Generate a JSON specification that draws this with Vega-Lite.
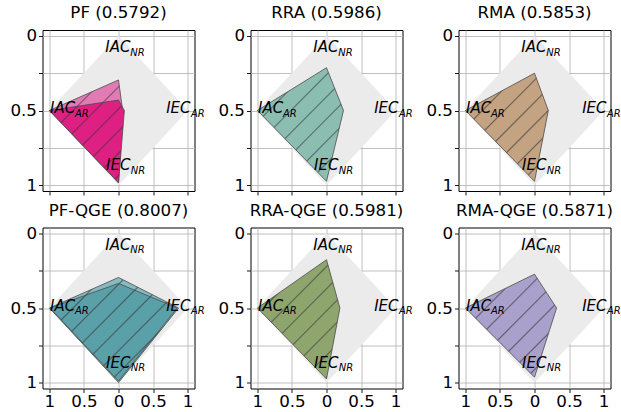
{
  "$schema": "https://vega.github.io/schema/vega-lite/v6.json",
  "padding": {"left": 8.5, "top": 4, "right": 0, "bottom": 0},
  "background": "white",
  "datasets": {
    "diamond": [
      {"order": 1, "x": 0, "y": 0},
      {"order": 2, "x": 1, "y": 0.5},
      {"order": 3, "x": 0, "y": 1},
      {"order": 4, "x": -1, "y": 0.5}
    ],
    "radar": [
      {"panel": "PF", "series": "PF-1", "order": 1, "x": 0, "y": 0.295},
      {"panel": "PF", "series": "PF-1", "order": 2, "x": 0.06, "y": 0.5},
      {"panel": "PF", "series": "PF-1", "order": 3, "x": 0, "y": 0.985},
      {"panel": "PF", "series": "PF-1", "order": 4, "x": -1, "y": 0.5},
      {"panel": "PF", "series": "PF-2", "order": 1, "x": 0, "y": 0.43},
      {"panel": "PF", "series": "PF-2", "order": 2, "x": 0.085, "y": 0.5},
      {"panel": "PF", "series": "PF-2", "order": 3, "x": 0, "y": 0.985},
      {"panel": "PF", "series": "PF-2", "order": 4, "x": -1, "y": 0.5},
      {"panel": "RRA", "series": "RRA", "order": 1, "x": 0, "y": 0.213},
      {"panel": "RRA", "series": "RRA", "order": 2, "x": 0.246, "y": 0.5},
      {"panel": "RRA", "series": "RRA", "order": 3, "x": 0, "y": 0.975},
      {"panel": "RRA", "series": "RRA", "order": 4, "x": -1, "y": 0.5},
      {"panel": "RMA", "series": "RMA", "order": 1, "x": 0, "y": 0.25},
      {"panel": "RMA", "series": "RMA", "order": 2, "x": 0.2, "y": 0.5},
      {"panel": "RMA", "series": "RMA", "order": 3, "x": 0, "y": 0.975},
      {"panel": "RMA", "series": "RMA", "order": 4, "x": -1, "y": 0.5},
      {"panel": "PF-QGE", "series": "PFQ-1", "order": 1, "x": 0, "y": 0.295},
      {"panel": "PF-QGE", "series": "PFQ-1", "order": 2, "x": 0.87, "y": 0.5},
      {"panel": "PF-QGE", "series": "PFQ-1", "order": 3, "x": 0, "y": 1.0},
      {"panel": "PF-QGE", "series": "PFQ-1", "order": 4, "x": -1, "y": 0.5},
      {"panel": "PF-QGE", "series": "PFQ-2", "order": 1, "x": 0, "y": 0.335},
      {"panel": "PF-QGE", "series": "PFQ-2", "order": 2, "x": 0.85, "y": 0.5},
      {"panel": "PF-QGE", "series": "PFQ-2", "order": 3, "x": 0, "y": 0.99},
      {"panel": "PF-QGE", "series": "PFQ-2", "order": 4, "x": -0.99, "y": 0.5},
      {"panel": "RRA-QGE", "series": "RRAQ", "order": 1, "x": 0, "y": 0.176},
      {"panel": "RRA-QGE", "series": "RRAQ", "order": 2, "x": 0.194, "y": 0.5},
      {"panel": "RRA-QGE", "series": "RRAQ", "order": 3, "x": 0, "y": 0.976},
      {"panel": "RRA-QGE", "series": "RRAQ", "order": 4, "x": -1, "y": 0.5},
      {"panel": "RMA-QGE", "series": "RMAQ", "order": 1, "x": 0, "y": 0.273},
      {"panel": "RMA-QGE", "series": "RMAQ", "order": 2, "x": 0.32, "y": 0.5},
      {"panel": "RMA-QGE", "series": "RMAQ", "order": 3, "x": 0, "y": 0.964},
      {"panel": "RMA-QGE", "series": "RMAQ", "order": 4, "x": -1, "y": 0.5}
    ],
    "labels": [
      {"label": "IAC", "sub": "NR", "x": -0.19, "y": 0.11},
      {"label": "IAC", "sub": "AR", "x": -0.99, "y": 0.52},
      {"label": "IEC", "sub": "AR", "x": 0.69, "y": 0.52},
      {"label": "IEC", "sub": "NR", "x": -0.18, "y": 0.9}
    ]
  },
  "config": {
    "font": "DejaVu Sans",
    "view": {"stroke": "#000000", "strokeWidth": 1},
    "axis": {
      "grid": true, "gridColor": "#b0b0b0", "gridWidth": 0.8,
      "domain": false, "ticks": true, "tickColor": "#000000", "tickSize": 4, "tickWidth": 0.9,
      "labelFont": "DejaVu Sans", "labelFontSize": 16.7, "labelColor": "#000000",
      "labelPadding": 2, "labelFlush": false, "labelOverlap": false, "zindex": 1
    },
    "axisX": {"labelPadding": 1},
    "title": {"font": "DejaVu Sans", "fontSize": 16.7, "fontWeight": "normal", "color": "#000000", "frame": "group", "anchor": "middle", "baseline": "alphabetic", "offset": 6}
  },
  "columns": 3,
  "spacing": {"row": 36.5, "column": 56},
  "bounds": "flush",
  "concat": [
    {
      "width": 152, "height": 161,
      "title": "PF (0.5792)",
      "encoding": {
        "x": {"field": "x", "type": "quantitative", "title": null, "scale": {"domain": [-1.1, 1.1], "nice": false, "zero": false}, "axis": {"values": [-1, -0.5, 0, 0.5, 1], "labels": false}},
        "y": {"field": "y", "type": "quantitative", "title": null, "scale": {"domain": [-0.04, 1.04], "nice": false, "zero": false, "reverse": true}, "axis": {"values": [0, 0.25, 0.5, 0.75, 1], "labelExpr": "datum.value == 0.25 || datum.value == 0.75 ? '' : '' + datum.value"}}
      },
      "layer": [
        {"data": {"name": "diamond"}, "mark": {"type": "line", "interpolate": "linear-closed", "fill": "#ebebeb", "stroke": "#ebebeb", "strokeWidth": 0.5}, "encoding": {"order": {"field": "order"}}},
        {"data": {"name": "radar"}, "transform": [{"filter": "datum.series == 'PF-1'"}], "mark": {"type": "line", "interpolate": "linear-closed", "stroke": "#4a4a4a", "strokeWidth": 0.8,
          "fill": {"gradient": "linear", "x1": 0, "y1": 0, "x2": 0.812, "y2": 1.135, "stops": [
            {"offset": 0, "color": "#e27ab5"},
            {"offset": 0.0479, "color": "#e27ab5"}, {"offset": 0.0570, "color": "#795067"}, {"offset": 0.0661, "color": "#e27ab5"},
            {"offset": 0.1732, "color": "#e27ab5"}, {"offset": 0.1823, "color": "#795067"}, {"offset": 0.1914, "color": "#e27ab5"},
            {"offset": 0.2986, "color": "#e27ab5"}, {"offset": 0.3077, "color": "#795067"}, {"offset": 0.3168, "color": "#e27ab5"},
            {"offset": 0.4239, "color": "#e27ab5"}, {"offset": 0.4330, "color": "#795067"}, {"offset": 0.4421, "color": "#e27ab5"},
            {"offset": 0.5493, "color": "#e27ab5"}, {"offset": 0.5584, "color": "#795067"}, {"offset": 0.5675, "color": "#e27ab5"},
            {"offset": 0.6747, "color": "#e27ab5"}, {"offset": 0.6838, "color": "#795067"}, {"offset": 0.6929, "color": "#e27ab5"},
            {"offset": 0.8000, "color": "#e27ab5"}, {"offset": 0.8091, "color": "#795067"}, {"offset": 0.8182, "color": "#e27ab5"},
            {"offset": 0.9254, "color": "#e27ab5"}, {"offset": 0.9345, "color": "#795067"}, {"offset": 0.9436, "color": "#e27ab5"},
            {"offset": 1, "color": "#e27ab5"}]}},
          "encoding": {"order": {"field": "order"}}},
        {"data": {"name": "radar"}, "transform": [{"filter": "datum.series == 'PF-2'"}], "mark": {"type": "line", "interpolate": "linear-closed", "stroke": "#4a4a4a", "strokeWidth": 0.8,
          "fill": {"gradient": "linear", "x1": 0, "y1": 0, "x2": 0.952, "y2": 1.044, "stops": [
            {"offset": 0, "color": "#de2082"},
            {"offset": 0.0661, "color": "#de2082"}, {"offset": 0.0763, "color": "#772b53"}, {"offset": 0.0865, "color": "#de2082"},
            {"offset": 0.2061, "color": "#de2082"}, {"offset": 0.2163, "color": "#772b53"}, {"offset": 0.2265, "color": "#de2082"},
            {"offset": 0.3460, "color": "#de2082"}, {"offset": 0.3562, "color": "#772b53"}, {"offset": 0.3664, "color": "#de2082"},
            {"offset": 0.4860, "color": "#de2082"}, {"offset": 0.4962, "color": "#772b53"}, {"offset": 0.5064, "color": "#de2082"},
            {"offset": 0.6259, "color": "#de2082"}, {"offset": 0.6361, "color": "#772b53"}, {"offset": 0.6463, "color": "#de2082"},
            {"offset": 0.7659, "color": "#de2082"}, {"offset": 0.7761, "color": "#772b53"}, {"offset": 0.7863, "color": "#de2082"},
            {"offset": 0.9058, "color": "#de2082"}, {"offset": 0.9160, "color": "#772b53"}, {"offset": 0.9262, "color": "#de2082"},
            {"offset": 1, "color": "#de2082"}]}},
          "encoding": {"order": {"field": "order"}}},
        {"data": {"name": "labels"}, "mark": {"type": "text", "align": "left", "baseline": "alphabetic", "fontStyle": "italic", "fontSize": 15, "color": "#000000"}, "encoding": {"text": {"field": "label"}}},
        {"data": {"name": "labels"}, "mark": {"type": "text", "align": "left", "baseline": "alphabetic", "fontStyle": "italic", "fontSize": 10, "dx": 24.8, "dy": 3.5, "color": "#000000"}, "encoding": {"text": {"field": "sub"}}}
      ]
    },
    {
      "width": 152, "height": 161,
      "title": "RRA (0.5986)",
      "encoding": {
        "x": {"field": "x", "type": "quantitative", "title": null, "scale": {"domain": [-1.1, 1.1], "nice": false, "zero": false}, "axis": {"values": [-1, -0.5, 0, 0.5, 1], "labels": false}},
        "y": {"field": "y", "type": "quantitative", "title": null, "scale": {"domain": [-0.04, 1.04], "nice": false, "zero": false, "reverse": true}, "axis": {"values": [0, 0.25, 0.5, 0.75, 1], "labelExpr": "datum.value == 0.25 || datum.value == 0.75 ? '' : '' + datum.value"}}
      },
      "layer": [
        {"data": {"name": "diamond"}, "mark": {"type": "line", "interpolate": "linear-closed", "fill": "#ebebeb", "stroke": "#ebebeb", "strokeWidth": 0.5}, "encoding": {"order": {"field": "order"}}},
        {"data": {"name": "radar"}, "transform": [{"filter": "datum.series == 'RRA'"}], "mark": {"type": "line", "interpolate": "linear-closed", "stroke": "#4a4a4a", "strokeWidth": 0.8,
          "fill": {"gradient": "linear", "x1": 0, "y1": 0, "x2": 0.850, "y2": 1.115, "stops": [
            {"offset": 0, "color": "#8bbeb1"},
            {"offset": 0.0423, "color": "#8bbeb1"}, {"offset": 0.0503, "color": "#566b65"}, {"offset": 0.0583, "color": "#8bbeb1"},
            {"offset": 0.1528, "color": "#8bbeb1"}, {"offset": 0.1608, "color": "#566b65"}, {"offset": 0.1688, "color": "#8bbeb1"},
            {"offset": 0.2634, "color": "#8bbeb1"}, {"offset": 0.2714, "color": "#566b65"}, {"offset": 0.2794, "color": "#8bbeb1"},
            {"offset": 0.3739, "color": "#8bbeb1"}, {"offset": 0.3819, "color": "#566b65"}, {"offset": 0.3899, "color": "#8bbeb1"},
            {"offset": 0.4845, "color": "#8bbeb1"}, {"offset": 0.4925, "color": "#566b65"}, {"offset": 0.5005, "color": "#8bbeb1"},
            {"offset": 0.5950, "color": "#8bbeb1"}, {"offset": 0.6030, "color": "#566b65"}, {"offset": 0.6110, "color": "#8bbeb1"},
            {"offset": 0.7056, "color": "#8bbeb1"}, {"offset": 0.7136, "color": "#566b65"}, {"offset": 0.7216, "color": "#8bbeb1"},
            {"offset": 0.8161, "color": "#8bbeb1"}, {"offset": 0.8241, "color": "#566b65"}, {"offset": 0.8321, "color": "#8bbeb1"},
            {"offset": 0.9267, "color": "#8bbeb1"}, {"offset": 0.9347, "color": "#566b65"}, {"offset": 0.9427, "color": "#8bbeb1"},
            {"offset": 1, "color": "#8bbeb1"}]}},
          "encoding": {"order": {"field": "order"}}},
        {"data": {"name": "labels"}, "mark": {"type": "text", "align": "left", "baseline": "alphabetic", "fontStyle": "italic", "fontSize": 15, "color": "#000000"}, "encoding": {"text": {"field": "label"}}},
        {"data": {"name": "labels"}, "mark": {"type": "text", "align": "left", "baseline": "alphabetic", "fontStyle": "italic", "fontSize": 10, "dx": 24.8, "dy": 3.5, "color": "#000000"}, "encoding": {"text": {"field": "sub"}}}
      ]
    },
    {
      "width": 152, "height": 161,
      "title": "RMA (0.5853)",
      "encoding": {
        "x": {"field": "x", "type": "quantitative", "title": null, "scale": {"domain": [-1.1, 1.1], "nice": false, "zero": false}, "axis": {"values": [-1, -0.5, 0, 0.5, 1], "labels": false}},
        "y": {"field": "y", "type": "quantitative", "title": null, "scale": {"domain": [-0.04, 1.04], "nice": false, "zero": false, "reverse": true}, "axis": {"values": [0, 0.25, 0.5, 0.75, 1], "labelExpr": "datum.value == 0.25 || datum.value == 0.75 ? '' : '' + datum.value"}}
      },
      "layer": [
        {"data": {"name": "diamond"}, "mark": {"type": "line", "interpolate": "linear-closed", "fill": "#ebebeb", "stroke": "#ebebeb", "strokeWidth": 0.5}, "encoding": {"order": {"field": "order"}}},
        {"data": {"name": "radar"}, "transform": [{"filter": "datum.series == 'RMA'"}], "mark": {"type": "line", "interpolate": "linear-closed", "stroke": "#4a4a4a", "strokeWidth": 0.8,
          "fill": {"gradient": "linear", "x1": 0, "y1": 0, "x2": 0.857, "y2": 1.110, "stops": [
            {"offset": 0, "color": "#c4a382"},
            {"offset": 0.0441, "color": "#c4a382"}, {"offset": 0.0525, "color": "#6d6053"}, {"offset": 0.0609, "color": "#c4a382"},
            {"offset": 0.1598, "color": "#c4a382"}, {"offset": 0.1682, "color": "#6d6053"}, {"offset": 0.1766, "color": "#c4a382"},
            {"offset": 0.2754, "color": "#c4a382"}, {"offset": 0.2838, "color": "#6d6053"}, {"offset": 0.2922, "color": "#c4a382"},
            {"offset": 0.3910, "color": "#c4a382"}, {"offset": 0.3994, "color": "#6d6053"}, {"offset": 0.4078, "color": "#c4a382"},
            {"offset": 0.5066, "color": "#c4a382"}, {"offset": 0.5150, "color": "#6d6053"}, {"offset": 0.5234, "color": "#c4a382"},
            {"offset": 0.6222, "color": "#c4a382"}, {"offset": 0.6306, "color": "#6d6053"}, {"offset": 0.6390, "color": "#c4a382"},
            {"offset": 0.7378, "color": "#c4a382"}, {"offset": 0.7462, "color": "#6d6053"}, {"offset": 0.7546, "color": "#c4a382"},
            {"offset": 0.8534, "color": "#c4a382"}, {"offset": 0.8618, "color": "#6d6053"}, {"offset": 0.8702, "color": "#c4a382"},
            {"offset": 0.9690, "color": "#c4a382"}, {"offset": 0.9774, "color": "#6d6053"}, {"offset": 0.9858, "color": "#c4a382"},
            {"offset": 1, "color": "#c4a382"}]}},
          "encoding": {"order": {"field": "order"}}},
        {"data": {"name": "labels"}, "mark": {"type": "text", "align": "left", "baseline": "alphabetic", "fontStyle": "italic", "fontSize": 15, "color": "#000000"}, "encoding": {"text": {"field": "label"}}},
        {"data": {"name": "labels"}, "mark": {"type": "text", "align": "left", "baseline": "alphabetic", "fontStyle": "italic", "fontSize": 10, "dx": 24.8, "dy": 3.5, "color": "#000000"}, "encoding": {"text": {"field": "sub"}}}
      ]
    },
    {
      "width": 152, "height": 161,
      "title": "PF-QGE (0.8007)",
      "encoding": {
        "x": {"field": "x", "type": "quantitative", "title": null, "scale": {"domain": [-1.1, 1.1], "nice": false, "zero": false}, "axis": {"values": [-1, -0.5, 0, 0.5, 1], "labelExpr": "'' + abs(datum.value)"}},
        "y": {"field": "y", "type": "quantitative", "title": null, "scale": {"domain": [-0.04, 1.04], "nice": false, "zero": false, "reverse": true}, "axis": {"values": [0, 0.25, 0.5, 0.75, 1], "labelExpr": "datum.value == 0.25 || datum.value == 0.75 ? '' : '' + datum.value"}}
      },
      "layer": [
        {"data": {"name": "diamond"}, "mark": {"type": "line", "interpolate": "linear-closed", "fill": "#ebebeb", "stroke": "#ebebeb", "strokeWidth": 0.5}, "encoding": {"order": {"field": "order"}}},
        {"data": {"name": "radar"}, "transform": [{"filter": "datum.series == 'PFQ-1'"}], "mark": {"type": "line", "interpolate": "linear-closed", "stroke": "#4a4a4a", "strokeWidth": 0.8,
          "fill": {"gradient": "linear", "x1": 0, "y1": 0, "x2": 1.094, "y2": 0.884, "stops": [
            {"offset": 0, "color": "#87b9c0"},
            {"offset": 0.0360, "color": "#87b9c0"}, {"offset": 0.0428, "color": "#556b6b"}, {"offset": 0.0496, "color": "#87b9c0"},
            {"offset": 0.1301, "color": "#87b9c0"}, {"offset": 0.1369, "color": "#556b6b"}, {"offset": 0.1437, "color": "#87b9c0"},
            {"offset": 0.2243, "color": "#87b9c0"}, {"offset": 0.2311, "color": "#556b6b"}, {"offset": 0.2379, "color": "#87b9c0"},
            {"offset": 0.3184, "color": "#87b9c0"}, {"offset": 0.3252, "color": "#556b6b"}, {"offset": 0.3320, "color": "#87b9c0"},
            {"offset": 0.4125, "color": "#87b9c0"}, {"offset": 0.4193, "color": "#556b6b"}, {"offset": 0.4261, "color": "#87b9c0"},
            {"offset": 0.5067, "color": "#87b9c0"}, {"offset": 0.5135, "color": "#556b6b"}, {"offset": 0.5203, "color": "#87b9c0"},
            {"offset": 0.6008, "color": "#87b9c0"}, {"offset": 0.6076, "color": "#556b6b"}, {"offset": 0.6144, "color": "#87b9c0"},
            {"offset": 0.6950, "color": "#87b9c0"}, {"offset": 0.7018, "color": "#556b6b"}, {"offset": 0.7086, "color": "#87b9c0"},
            {"offset": 0.7891, "color": "#87b9c0"}, {"offset": 0.7959, "color": "#556b6b"}, {"offset": 0.8027, "color": "#87b9c0"},
            {"offset": 0.8832, "color": "#87b9c0"}, {"offset": 0.8900, "color": "#556b6b"}, {"offset": 0.8968, "color": "#87b9c0"},
            {"offset": 0.9774, "color": "#87b9c0"}, {"offset": 0.9842, "color": "#556b6b"}, {"offset": 0.9910, "color": "#87b9c0"},
            {"offset": 1, "color": "#87b9c0"}]}},
          "encoding": {"order": {"field": "order"}}},
        {"data": {"name": "radar"}, "transform": [{"filter": "datum.series == 'PFQ-2'"}], "mark": {"type": "line", "interpolate": "linear-closed", "stroke": "#4a4a4a", "strokeWidth": 0.8,
          "fill": {"gradient": "linear", "x1": 0, "y1": 0, "x2": 1.114, "y2": 0.851, "stops": [
            {"offset": 0, "color": "#5aa0a8"},
            {"offset": 0.0080, "color": "#5aa0a8"}, {"offset": 0.0151, "color": "#435f62"}, {"offset": 0.0222, "color": "#5aa0a8"},
            {"offset": 0.1061, "color": "#5aa0a8"}, {"offset": 0.1132, "color": "#435f62"}, {"offset": 0.1203, "color": "#5aa0a8"},
            {"offset": 0.2042, "color": "#5aa0a8"}, {"offset": 0.2113, "color": "#435f62"}, {"offset": 0.2184, "color": "#5aa0a8"},
            {"offset": 0.3024, "color": "#5aa0a8"}, {"offset": 0.3095, "color": "#435f62"}, {"offset": 0.3166, "color": "#5aa0a8"},
            {"offset": 0.4005, "color": "#5aa0a8"}, {"offset": 0.4076, "color": "#435f62"}, {"offset": 0.4147, "color": "#5aa0a8"},
            {"offset": 0.4986, "color": "#5aa0a8"}, {"offset": 0.5057, "color": "#435f62"}, {"offset": 0.5128, "color": "#5aa0a8"},
            {"offset": 0.5967, "color": "#5aa0a8"}, {"offset": 0.6038, "color": "#435f62"}, {"offset": 0.6109, "color": "#5aa0a8"},
            {"offset": 0.6949, "color": "#5aa0a8"}, {"offset": 0.7020, "color": "#435f62"}, {"offset": 0.7091, "color": "#5aa0a8"},
            {"offset": 0.7930, "color": "#5aa0a8"}, {"offset": 0.8001, "color": "#435f62"}, {"offset": 0.8072, "color": "#5aa0a8"},
            {"offset": 0.8911, "color": "#5aa0a8"}, {"offset": 0.8982, "color": "#435f62"}, {"offset": 0.9053, "color": "#5aa0a8"},
            {"offset": 1, "color": "#5aa0a8"}]}},
          "encoding": {"order": {"field": "order"}}},
        {"data": {"name": "labels"}, "mark": {"type": "text", "align": "left", "baseline": "alphabetic", "fontStyle": "italic", "fontSize": 15, "color": "#000000"}, "encoding": {"text": {"field": "label"}}},
        {"data": {"name": "labels"}, "mark": {"type": "text", "align": "left", "baseline": "alphabetic", "fontStyle": "italic", "fontSize": 10, "dx": 24.8, "dy": 3.5, "color": "#000000"}, "encoding": {"text": {"field": "sub"}}}
      ]
    },
    {
      "width": 152, "height": 161,
      "title": "RRA-QGE (0.5981)",
      "encoding": {
        "x": {"field": "x", "type": "quantitative", "title": null, "scale": {"domain": [-1.1, 1.1], "nice": false, "zero": false}, "axis": {"values": [-1, -0.5, 0, 0.5, 1], "labelExpr": "'' + abs(datum.value)"}},
        "y": {"field": "y", "type": "quantitative", "title": null, "scale": {"domain": [-0.04, 1.04], "nice": false, "zero": false, "reverse": true}, "axis": {"values": [0, 0.25, 0.5, 0.75, 1], "labelExpr": "datum.value == 0.25 || datum.value == 0.75 ? '' : '' + datum.value"}}
      },
      "layer": [
        {"data": {"name": "diamond"}, "mark": {"type": "line", "interpolate": "linear-closed", "fill": "#ebebeb", "stroke": "#ebebeb", "strokeWidth": 0.5}, "encoding": {"order": {"field": "order"}}},
        {"data": {"name": "radar"}, "transform": [{"filter": "datum.series == 'RRAQ'"}], "mark": {"type": "line", "interpolate": "linear-closed", "stroke": "#4a4a4a", "strokeWidth": 0.8,
          "fill": {"gradient": "linear", "x1": 0, "y1": 0, "x2": 0.795, "y2": 1.143, "stops": [
            {"offset": 0, "color": "#8fa56e"},
            {"offset": 0.0417, "color": "#8fa56e"}, {"offset": 0.0497, "color": "#58614b"}, {"offset": 0.0577, "color": "#8fa56e"},
            {"offset": 0.1511, "color": "#8fa56e"}, {"offset": 0.1591, "color": "#58614b"}, {"offset": 0.1671, "color": "#8fa56e"},
            {"offset": 0.2605, "color": "#8fa56e"}, {"offset": 0.2685, "color": "#58614b"}, {"offset": 0.2765, "color": "#8fa56e"},
            {"offset": 0.3699, "color": "#8fa56e"}, {"offset": 0.3779, "color": "#58614b"}, {"offset": 0.3859, "color": "#8fa56e"},
            {"offset": 0.4793, "color": "#8fa56e"}, {"offset": 0.4873, "color": "#58614b"}, {"offset": 0.4953, "color": "#8fa56e"},
            {"offset": 0.5887, "color": "#8fa56e"}, {"offset": 0.5967, "color": "#58614b"}, {"offset": 0.6047, "color": "#8fa56e"},
            {"offset": 0.6981, "color": "#8fa56e"}, {"offset": 0.7061, "color": "#58614b"}, {"offset": 0.7141, "color": "#8fa56e"},
            {"offset": 0.8075, "color": "#8fa56e"}, {"offset": 0.8155, "color": "#58614b"}, {"offset": 0.8235, "color": "#8fa56e"},
            {"offset": 0.9169, "color": "#8fa56e"}, {"offset": 0.9249, "color": "#58614b"}, {"offset": 0.9329, "color": "#8fa56e"},
            {"offset": 1, "color": "#8fa56e"}]}},
          "encoding": {"order": {"field": "order"}}},
        {"data": {"name": "labels"}, "mark": {"type": "text", "align": "left", "baseline": "alphabetic", "fontStyle": "italic", "fontSize": 15, "color": "#000000"}, "encoding": {"text": {"field": "label"}}},
        {"data": {"name": "labels"}, "mark": {"type": "text", "align": "left", "baseline": "alphabetic", "fontStyle": "italic", "fontSize": 10, "dx": 24.8, "dy": 3.5, "color": "#000000"}, "encoding": {"text": {"field": "sub"}}}
      ]
    },
    {
      "width": 152, "height": 161,
      "title": "RMA-QGE (0.5871)",
      "encoding": {
        "x": {"field": "x", "type": "quantitative", "title": null, "scale": {"domain": [-1.1, 1.1], "nice": false, "zero": false}, "axis": {"values": [-1, -0.5, 0, 0.5, 1], "labelExpr": "'' + abs(datum.value)"}},
        "y": {"field": "y", "type": "quantitative", "title": null, "scale": {"domain": [-0.04, 1.04], "nice": false, "zero": false, "reverse": true}, "axis": {"values": [0, 0.25, 0.5, 0.75, 1], "labelExpr": "datum.value == 0.25 || datum.value == 0.75 ? '' : '' + datum.value"}}
      },
      "layer": [
        {"data": {"name": "diamond"}, "mark": {"type": "line", "interpolate": "linear-closed", "fill": "#ebebeb", "stroke": "#ebebeb", "strokeWidth": 0.5}, "encoding": {"order": {"field": "order"}}},
        {"data": {"name": "radar"}, "transform": [{"filter": "datum.series == 'RMAQ'"}], "mark": {"type": "line", "interpolate": "linear-closed", "stroke": "#4a4a4a", "strokeWidth": 0.8,
          "fill": {"gradient": "linear", "x1": 0, "y1": 0, "x2": 0.939, "y2": 1.054, "stops": [
            {"offset": 0, "color": "#aaa0cc"},
            {"offset": 0.0434, "color": "#aaa0cc"}, {"offset": 0.0517, "color": "#635f70"}, {"offset": 0.0600, "color": "#aaa0cc"},
            {"offset": 0.1570, "color": "#aaa0cc"}, {"offset": 0.1653, "color": "#635f70"}, {"offset": 0.1736, "color": "#aaa0cc"},
            {"offset": 0.2706, "color": "#aaa0cc"}, {"offset": 0.2789, "color": "#635f70"}, {"offset": 0.2872, "color": "#aaa0cc"},
            {"offset": 0.3843, "color": "#aaa0cc"}, {"offset": 0.3926, "color": "#635f70"}, {"offset": 0.4009, "color": "#aaa0cc"},
            {"offset": 0.4979, "color": "#aaa0cc"}, {"offset": 0.5062, "color": "#635f70"}, {"offset": 0.5145, "color": "#aaa0cc"},
            {"offset": 0.6115, "color": "#aaa0cc"}, {"offset": 0.6198, "color": "#635f70"}, {"offset": 0.6281, "color": "#aaa0cc"},
            {"offset": 0.7252, "color": "#aaa0cc"}, {"offset": 0.7335, "color": "#635f70"}, {"offset": 0.7418, "color": "#aaa0cc"},
            {"offset": 0.8388, "color": "#aaa0cc"}, {"offset": 0.8471, "color": "#635f70"}, {"offset": 0.8554, "color": "#aaa0cc"},
            {"offset": 0.9524, "color": "#aaa0cc"}, {"offset": 0.9607, "color": "#635f70"}, {"offset": 0.9690, "color": "#aaa0cc"},
            {"offset": 1, "color": "#aaa0cc"}]}},
          "encoding": {"order": {"field": "order"}}},
        {"data": {"name": "labels"}, "mark": {"type": "text", "align": "left", "baseline": "alphabetic", "fontStyle": "italic", "fontSize": 15, "color": "#000000"}, "encoding": {"text": {"field": "label"}}},
        {"data": {"name": "labels"}, "mark": {"type": "text", "align": "left", "baseline": "alphabetic", "fontStyle": "italic", "fontSize": 10, "dx": 24.8, "dy": 3.5, "color": "#000000"}, "encoding": {"text": {"field": "sub"}}}
      ]
    }
  ]
}
